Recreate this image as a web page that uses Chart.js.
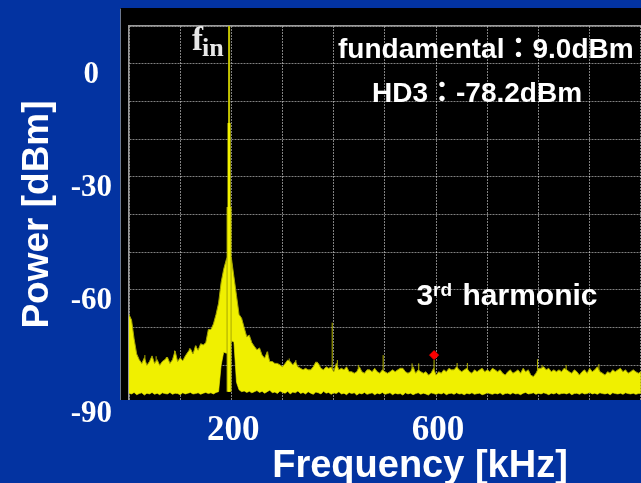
<!DOCTYPE html>
<html><head><meta charset="utf-8">
<script src="https://cdn.jsdelivr.net/npm/chart.js@4.4.1/dist/chart.umd.min.js"></script>
<style>html,body{margin:0;padding:0;overflow:hidden;background:#0333a1;}#wrap{width:711px;height:483px;}</style>
</head><body><div id="wrap"><canvas id="c" width="711" height="483"></canvas></div>
<script>
// ---- data ----
const freqKHz = [
0,5,10,15,20,25,30,35,40,45,50,55,60,65,70,75,80,85,90,95,
100,105,110,115,120,125,130,135,140,145,150,155,160,165,170,175,180,185,190,195,
200,205,210,215,220,225,230,235,240,245,250,255,260,265,270,275,280,285,290,295,
300,305,310,315,320,325,330,335,340,345,350,355,360,365,370,375,380,385,390,395,
400,405,410,415,420,425,430,435,440,445,450,455,460,465,470,475,480,485,490,495,
500,505,510,515,520,525,530,535,540,545,550,555,560,565,570,575,580,585,590,595,
600,605,610,615,620,625,630,635,640,645,650,655,660,665,670,675,680,685,690,695,
700,705,710,715,720,725,730,735,740,745,750,755,760,765,770,775,780,785,790,795,
800,805,810,815,820,825,830,835,840,845,850,855,860,865,870,875,880,885,890,895,
900,905,910,915,920,925,930,935,940,945,950,955,960,965,970,975,980,985,990,995,
1000];
const noiseUpper = [
-66.5,-68,-73,-77,-78.5,-79.5,-78,-80,-79,-77.5,-79.5,-78.5,-80,-79,-78.5,-77.8,-79.5,-78.5,-76.2,-79,
-78,-78.8,-77.5,-76.5,-75.6,-77,-74.8,-76,-74.3,-74.6,-74,-70.5,-70.5,-69,-66.5,-63.5,-58,-54.5,-52,-50.5,
-51.5,-56.5,-61.5,-66.5,-67.5,-70,-72.4,-72,-74,-75,-75.9,-75.4,-77.3,-78.1,-76.4,-79,-79,-79.5,-79.5,-79.9,
-80.4,-79.5,-78.6,-79,-79.9,-79,-80.4,-80.8,-81.2,-80.8,-81.2,-81.2,-80.4,-79.1,-79.5,-80.8,-81.2,-80.4,-80.8,-80.5,
-81.7,-79.5,-81.2,-80.8,-81.2,-80.4,-81.7,-81.7,-82.1,-81.7,-80.4,-81.7,-82.1,-81.2,-81.2,-81.7,-80.8,-81.7,-82.1,-81.2,
-81.7,-82.1,-81.7,-81.2,-81.7,-81.2,-80.8,-80.8,-81.7,-82.1,-81.7,-80.4,-82.1,-81.2,-81.7,-82.1,-81.7,-82.6,-82.1,-80.8,
-82.6,-81.7,-82.1,-81.2,-81.7,-80.8,-81.2,-81.2,-80.4,-81.2,-81.7,-81.2,-80.8,-81.7,-82.1,-81.2,-81.7,-81.2,-80.8,-81.7,
-81.2,-81.7,-80.8,-81.2,-81.7,-81.2,-82.1,-82.6,-81.7,-81.2,-82.1,-81.7,-81.2,-82.1,-80.8,-81.7,-81.2,-82.6,-83.0,-82.1,
-80.8,-80.8,-80.4,-81.2,-80.8,-81.7,-81.2,-81.7,-81.2,-81.7,-80.8,-81.2,-81.7,-82.1,-81.2,-81.7,-82.6,-81.7,-81.2,-82.1,
-80.8,-81.7,-81.2,-80.4,-81.7,-82.1,-82.6,-81.7,-82.1,-81.2,-81.7,-81.2,-80.8,-81.7,-81.2,-82.1,-81.7,-81.2,-81.7,-82.1,
-81.7];
const noiseLower = [
-87.4,-87.6,-87.2,-87.8,-87.5,-87.3,-87.9,-87.4,-87.6,-87.2,-87.7,-87.4,-87.8,-87.3,-87.5,-87.6,-87.2,-87.7,-87.4,-87.5,
-87.8,-87.3,-87.6,-87.4,-87.2,-87.6,-87.5,-87.3,-87.7,-87.4,-87.2,-87.5,-87.3,-87.6,-87.2,-87.0,-80.0,-76.5,-76.8,-76.5,
-73.5,-73.8,-84.5,-86.5,-87.0,-86.8,-87.2,-86.9,-87.3,-87.0,-86.7,-87.2,-86.9,-87.4,-87.0,-86.6,-87.3,-87.1,-87.5,-86.8,
-87.2,-87.4,-86.9,-87.6,-87.1,-87.3,-86.8,-87.5,-87.2,-87.6,-87.0,-87.4,-87.7,-87.1,-87.3,-87.6,-86.9,-87.4,-87.2,-87.7,
-87.3,-87.5,-87.0,-87.6,-87.4,-87.8,-87.2,-87.5,-87.3,-87.9,-87.4,-87.6,-87.2,-87.7,-87.5,-87.3,-87.8,-87.4,-87.6,-87.2,
-87.7,-87.5,-87.3,-87.8,-87.4,-87.6,-87.5,-87.9,-87.3,-87.6,-87.4,-87.8,-87.5,-87.3,-87.7,-87.4,-87.6,-87.9,-87.3,-87.5,
-87.7,-87.4,-87.6,-87.3,-87.8,-87.5,-87.4,-87.7,-87.3,-87.6,-87.5,-87.8,-87.4,-87.6,-87.3,-87.7,-87.5,-87.4,-87.8,-87.6,
-87.3,-87.5,-87.7,-87.4,-87.6,-87.3,-87.8,-87.5,-87.4,-87.7,-87.3,-87.6,-87.5,-87.8,-87.4,-87.2,-87.6,-87.5,-87.3,-87.7,
-87.4,-87.6,-87.3,-87.5,-87.8,-87.4,-87.6,-87.3,-87.7,-87.5,-87.4,-87.6,-87.3,-87.8,-87.5,-87.4,-87.7,-87.3,-87.6,-87.5,
-87.2,-87.6,-87.4,-87.7,-87.3,-87.5,-87.6,-87.4,-87.8,-87.3,-87.5,-87.6,-87.4,-87.7,-87.3,-87.5,-87.6,-87.4,-87.7,-87.5,
-87.4];
const fundFreq = 195.5;            // kHz
const fundBase = -87;
const fundLevels = [10, -15.7, -38]; // tiers of the fundamental line
const spikeFreqs = [31, 53, 73, 89, 118, 131, 141, 271, 313, 326, 368, 397, 407, 448, 496.5, 553, 566, 596, 641, 661, 798, 807, 854, 918];
const spikeTops  = [-77.3, -77.6, -77.8, -76.1, -75.5, -74.8, -74.3, -76.4, -78.2, -78.6, -79.1, -68.7, -78.6, -79.9, -77.3, -79.5, -79.5, -78.6, -79.4, -79.4, -78.4, -79.9, -79.9, -79.7];
const spikeBase = -84;
const hd3Freq = 596, hd3Level = -77.3;
const yTickLabels = [0, -30, -60, -90];
const xTickLabels = [200, 600];
const xTitle = 'Frequency [kHz]';
const yTitle = 'Power [dBm]';
const noteFund = 'fundamental：9.0dBm';
const noteHD3 = 'HD3：-78.2dBm';

// ---- build datasets ----
const upperData = freqKHz.map((f, i) => ({x: f, y: noiseUpper[i]}));
const lowerData = freqKHz.map((f, i) => ({x: f, y: noiseLower[i]}));
const spikeData = [];
spikeFreqs.forEach((f, i) => { spikeData.push({x: f, y: spikeBase}, {x: f, y: spikeTops[i]}, {x: f, y: null}); });
const tier = k => [{x: fundFreq, y: fundBase}, {x: fundFreq, y: fundLevels[k]}];

const BLUE = '#0333a1';
const sans = "'Liberation Sans', Arial, 'Noto Sans CJK JP', sans-serif";
const serif = "'Liberation Serif', 'Times New Roman', serif";

const panelPlugin = {
  id: 'panel',
  beforeDraw(chart) {
    const {ctx, width, height} = chart;
    ctx.save();
    ctx.fillStyle = BLUE; ctx.fillRect(0, 0, width, height);
    ctx.fillStyle = '#000'; ctx.fillRect(120, 8, width - 120, 392);
    ctx.strokeStyle = '#6c7890'; ctx.lineWidth = 1;
    ctx.beginPath(); ctx.moveTo(120.5, 400); ctx.lineTo(120.5, 8.5); ctx.stroke();
    ctx.restore();
  },
  afterDraw(chart) {
    const {ctx, width} = chart;
    ctx.save();
    ctx.fillStyle = BLUE; ctx.fillRect(119, 400, width - 119, 4);
    ctx.textBaseline = 'alphabetic'; ctx.textAlign = 'left';
    ctx.fillStyle = '#e8e8e8';
    ctx.font = 'bold 33px ' + serif; ctx.fillText('f', 192, 50);
    ctx.font = 'bold 26px ' + serif; ctx.fillText('in', 202, 56);
    ctx.fillStyle = '#ffffff';
    ctx.font = 'bold 28px ' + sans;
    ctx.fillText(noteFund, 338, 58);
    ctx.fillText(noteHD3, 372, 102);
    ctx.font = 'bold 30px ' + sans; ctx.fillText('3', 416.5, 305);
    ctx.font = 'bold 19px ' + sans; ctx.fillText('rd', 433, 296);
    ctx.font = 'bold 30px ' + sans; ctx.fillText('harmonic', 462.5, 305);
    ctx.restore();
  }
};

const lineBase = {type: 'line', pointRadius: 0, tension: 0, borderCapStyle: 'butt', fill: false};
const noPad = s => { s.paddingLeft = 0; s.paddingRight = 0; s.paddingTop = 0; s.paddingBottom = 0; };

new Chart(document.getElementById('c'), {
  type: 'line',
  data: {
    datasets: [
      {...lineBase, label: 'HD3', data: [{x: hd3Freq, y: hd3Level}], showLine: false,
        pointRadius: 4.5, pointStyle: 'rectRot', pointBackgroundColor: '#ff0000', pointBorderColor: '#ff0000',
        pointBorderWidth: 1, order: 0, clip: false},
      {...lineBase, label: 'fund2', data: tier(1), borderColor: '#f2f200', borderWidth: 3, order: 1},
      {...lineBase, label: 'fund1', data: tier(0), borderColor: '#c4c400', borderWidth: 2, order: 2},
      {...lineBase, label: 'fund3', data: tier(2), borderColor: '#a8a800', borderWidth: 5, order: 3},
      {...lineBase, label: 'upper', data: upperData, borderColor: '#a5a500', borderWidth: 1,
        backgroundColor: '#f0f000', fill: '+1', order: 5},
      {...lineBase, label: 'lower', data: lowerData, borderColor: '#9a9a00', borderWidth: 1, order: 6},
      {...lineBase, label: 'spikes', data: spikeData, borderColor: '#b4b400', borderWidth: 1, spanGaps: false, order: 7}
    ]
  },
  plugins: [panelPlugin],
  options: {
    responsive: false, animation: false, devicePixelRatio: 1, events: [],
    layout: {padding: 0, autoPadding: false},
    plugins: {legend: {display: false}, tooltip: {enabled: false}},
    scales: {
      x: {
        type: 'linear', position: 'bottom', min: 0, max: 1137, offset: false, z: 1,
        afterFit: s => { s.height = 80; noPad(s); },
        grid: {color: 'rgba(255,255,255,0.5)', lineWidth: 1, drawTicks: false, offset: false},
        border: {display: false, dash: [2, 1]},
        ticks: {stepSize: 100, autoSkip: false, maxRotation: 0, minRotation: 0, padding: 7, labelOffset: 2,
          color: '#ffffff', font: {family: serif, size: 35, weight: 'bold'},
          callback: v => xTickLabels.includes(v) ? String(v) : ''},
        title: {display: true, text: xTitle, color: '#ffffff', padding: 0,
          font: {family: sans, size: 38, weight: 'bold', lineHeight: 0.85}}
      },
      x2: {
        type: 'linear', position: 'top', min: 0, max: 1137, z: 1,
        afterFit: s => { s.height = 26; noPad(s); },
        grid: {display: false, drawTicks: false},
        border: {display: true, color: '#9a9a9a', width: 1.5},
        ticks: {display: false}
      },
      y: {
        type: 'linear', position: 'left', min: -90, max: 10, z: 1,
        afterFit: s => { s.width = 129; noPad(s); },
        grid: {color: c => (c.tick && c.tick.value === -90) ? 'rgba(0,0,0,0)' : 'rgba(255,255,255,0.5)',
          lineWidth: 1, drawTicks: false},
        border: {display: true, color: '#9a9a9a', width: 1.5, dash: [2, 1]},
        ticks: {stepSize: 10, autoSkip: false, padding: 17, crossAlign: 'center', labelOffset: 11,
          color: '#ffffff', font: {family: serif, size: 31, weight: 'bold'},
          callback: v => yTickLabels.includes(v) ? String(v) : ''},
        title: {display: true, text: yTitle, color: '#ffffff', padding: {top: 19, bottom: 0},
          font: {family: sans, size: 37, weight: 'bold', lineHeight: 1}}
      }
    }
  }
});
</script>
</body></html>
